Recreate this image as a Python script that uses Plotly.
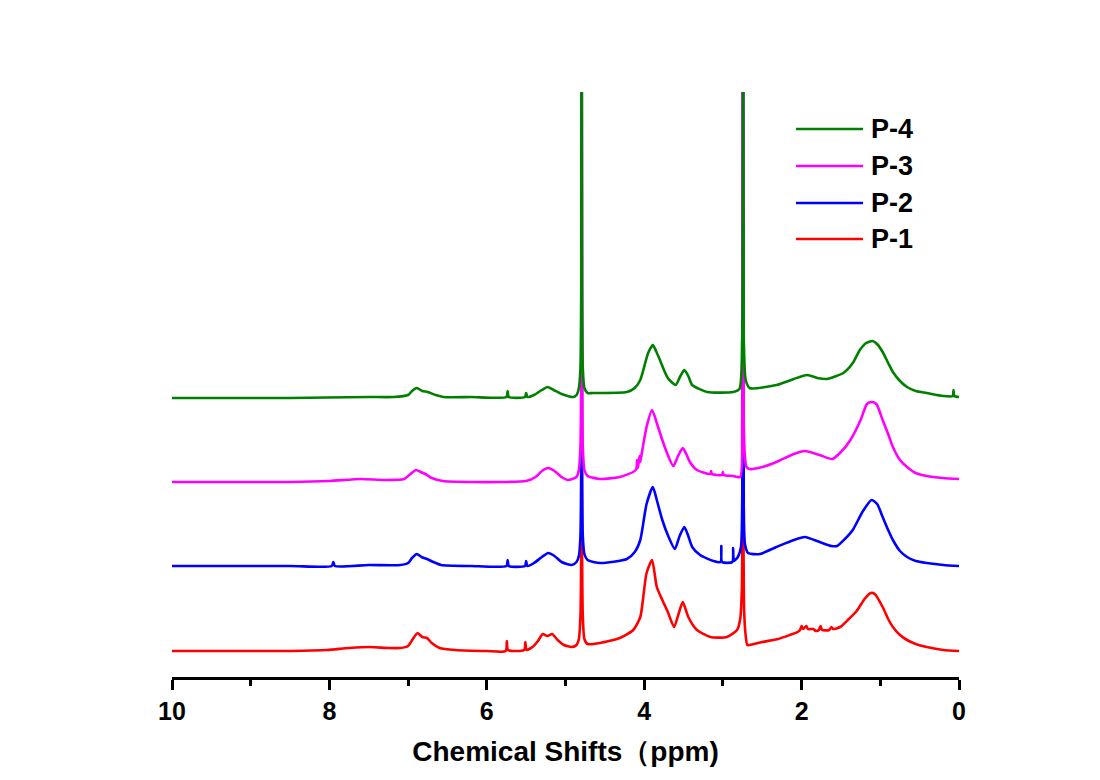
import plotly.graph_objects as go

# ---------------- data ----------------
names = ["P-1", "P-2", "P-3", "P-4"]
colors = ["#FF0000", "#0000FF", "#FF00FF", "#008000"]
offsets = [26, 111, 195, 279]          # vertical stacking offset of each spectrum
tick_vals = [10, 8, 6, 4, 2, 0]
x_title = "Chemical Shifts（ppm)"

# (ppm, intensity above own baseline)
P1 = [(10.0, 0), (9.0, 0), (8.5, 0), (8.03, 1), (7.75, 3), (7.48, 4), (7.25, 3), (7.10, 3),
      (7.00, 5), (6.94, 12), (6.88, 18), (6.82, 14), (6.76, 13), (6.70, 8), (6.60, 3), (6.40, 1),
      (6.00, 0), (5.76, 0), (5.745, 10), (5.73, 1), (5.525, 1), (5.51, 9), (5.495, 1), (5.42, 4),
      (5.35, 10), (5.29, 17), (5.23, 15), (5.17, 17), (5.10, 11), (5.02, 6), (4.92, 4), (4.86, 6),
      (4.83, 12), (4.81, 35), (4.80, 110), (4.795, 900), (4.79, 110), (4.78, 35), (4.76, 12),
      (4.72, 7), (4.56, 8), (4.31, 13), (4.14, 21), (4.05, 34), (3.97, 78), (3.90, 91), (3.84, 64),
      (3.77, 51), (3.70, 39), (3.62, 24), (3.56, 38), (3.51, 49), (3.44, 34), (3.33, 21),
      (3.16, 14), (2.95, 14), (2.82, 21), (2.78, 32), (2.76, 60), (2.75, 150), (2.745, 900),
      (2.74, 150), (2.73, 40), (2.71, 15), (2.69, 6), (2.66, 6), (2.50, 9), (2.30, 12),
      (2.15, 16), (2.05, 19), (2.02, 21), (2.00, 25), (1.98, 22), (1.94, 25), (1.92, 22),
      (1.85, 22), (1.82, 20), (1.78, 21), (1.76, 25), (1.74, 21), (1.65, 21), (1.62, 24),
      (1.60, 22), (1.51, 24), (1.40, 32), (1.30, 40), (1.20, 52), (1.12, 58), (1.07, 57),
      (0.97, 44), (0.90, 32), (0.84, 24), (0.75, 16), (0.66, 11), (0.55, 7), (0.41, 4),
      (0.20, 1), (0.0, 0)]

P2 = [(10.0, 0), (8.5, 0), (7.97, 0), (7.95, 4), (7.93, 0), (7.5, 1), (7.1, 1), (7.0, 3),
      (6.95, 8), (6.89, 12), (6.83, 9), (6.76, 7), (6.68, 4), (6.58, 1), (6.2, 0), (5.75, 0),
      (5.735, 6), (5.72, 0), (5.515, 0), (5.50, 5), (5.485, 0), (5.40, 3), (5.30, 9), (5.22, 13),
      (5.14, 10), (5.05, 4), (4.92, 1), (4.86, 4), (4.83, 10), (4.81, 30), (4.80, 100),
      (4.795, 900), (4.79, 100), (4.78, 30), (4.76, 12), (4.72, 6), (4.56, 3), (4.22, 7),
      (4.12, 14), (4.05, 26), (3.97, 62), (3.89, 79), (3.84, 66), (3.77, 46), (3.70, 31),
      (3.61, 17), (3.55, 30), (3.49, 39), (3.44, 30), (3.39, 19), (3.29, 11), (3.12, 5),
      (3.03, 4), (3.02, 20), (3.01, 4), (2.88, 4), (2.87, 18), (2.86, 5), (2.81, 9), (2.77, 19),
      (2.755, 60), (2.745, 900), (2.735, 60), (2.72, 22), (2.68, 13), (2.53, 12), (2.32, 19),
      (2.10, 26), (1.96, 29), (1.77, 24), (1.62, 20), (1.55, 20), (1.45, 27), (1.35, 36),
      (1.22, 55), (1.11, 66), (1.04, 62), (0.97, 49), (0.90, 36), (0.84, 26), (0.75, 15),
      (0.66, 9), (0.55, 5), (0.41, 3), (0.2, 1), (0.0, 0)]

P3 = [(10.0, 0), (8.5, 0), (8.0, 1), (7.6, 3), (7.3, 2), (7.05, 3), (6.97, 8), (6.90, 12),
      (6.84, 10), (6.78, 8), (6.70, 4), (6.56, 1), (6.2, 0), (5.8, 0), (5.5, 1), (5.38, 5),
      (5.30, 11), (5.22, 14), (5.14, 11), (5.05, 5), (4.97, 2), (4.86, 5), (4.83, 12), (4.81, 35),
      (4.80, 110), (4.795, 900), (4.79, 110), (4.78, 35), (4.76, 12), (4.72, 6), (4.56, 3),
      (4.31, 5), (4.14, 10), (4.10, 13), (4.09, 22), (4.08, 14), (4.06, 26), (4.05, 20),
      (4.03, 29), (3.97, 55), (3.90, 72), (3.84, 59), (3.77, 42), (3.71, 29), (3.63, 16),
      (3.57, 26), (3.51, 34), (3.46, 27), (3.42, 20), (3.33, 12), (3.16, 8), (3.15, 11),
      (3.14, 8), (3.01, 7), (3.00, 10), (2.99, 7), (2.87, 6), (2.78, 5), (2.755, 60),
      (2.745, 900), (2.735, 60), (2.72, 25), (2.70, 15), (2.66, 13), (2.50, 15), (2.32, 20),
      (2.10, 28), (1.96, 31), (1.77, 27), (1.61, 23), (1.50, 30), (1.38, 42), (1.25, 62),
      (1.17, 78), (1.11, 80), (1.05, 78), (0.97, 62), (0.90, 48), (0.84, 35), (0.75, 22),
      (0.66, 15), (0.55, 9), (0.41, 6), (0.2, 4), (0.0, 3)]

P4 = [(10.0, 0), (8.5, 0), (7.5, 1), (7.19, 1), (7.0, 3), (6.95, 7), (6.89, 10), (6.82, 7),
      (6.75, 6), (6.65, 3), (6.55, 1), (6.2, 1), (5.75, 1), (5.735, 7), (5.72, 1), (5.515, 1),
      (5.50, 5), (5.485, 1), (5.40, 3), (5.30, 8), (5.23, 11), (5.15, 8), (5.05, 4), (4.90, 1),
      (4.86, 3), (4.83, 10), (4.81, 30), (4.80, 110), (4.795, 900), (4.79, 110), (4.78, 30),
      (4.76, 10), (4.72, 5), (4.65, 5), (4.22, 6), (4.12, 10), (4.05, 18), (3.95, 45),
      (3.89, 53), (3.85, 47), (3.80, 38), (3.70, 20), (3.60, 13), (3.54, 22), (3.49, 28),
      (3.44, 22), (3.39, 13), (3.20, 6), (2.87, 6), (2.79, 9), (2.755, 60), (2.745, 900),
      (2.735, 60), (2.71, 18), (2.66, 10), (2.32, 13), (2.10, 19), (1.93, 23), (1.80, 20),
      (1.68, 19), (1.47, 25), (1.35, 35), (1.26, 48), (1.18, 55), (1.10, 57), (1.03, 53),
      (0.97, 46), (0.90, 35), (0.84, 26), (0.75, 17), (0.66, 11), (0.55, 7), (0.41, 5),
      (0.20, 2), (0.08, 2), (0.07, 8), (0.06, 2), (0.0, 1)]

spectra = [P1, P2, P3, P4]

# ---------------- figure ----------------
W, H = 1100, 780
ML, MR, MT, MB = 172, 141, 92, 103
FONT = "Arial, Liberation Sans, sans-serif"

fig = go.Figure()
for name, col, off, sp in zip(names, colors, offsets, spectra):
    xs = [p[0] for p in sp]
    ys = [p[1] + off for p in sp]
    fig.add_trace(go.Scatter(x=xs, y=ys, mode="lines", name=name,
                             line=dict(color=col, width=2.6, shape="spline", smoothing=0.6),
                             showlegend=False, hoverinfo="skip"))

# manual legend (long line samples as in the original)
pw, ph = W - ML - MR, H - MT - MB
def px_x(v):
    return (v - ML) / pw
def px_y(v):
    return (H - MB - v) / ph

leg_rows = [129, 166, 203, 239]
for i, row in enumerate(leg_rows):
    k = len(names) - 1 - i
    fig.add_shape(type="line", xref="paper", yref="paper",
                  x0=px_x(796), x1=px_x(863), y0=px_y(row), y1=px_y(row),
                  line=dict(color=colors[k], width=2.6))
    fig.add_annotation(xref="paper", yref="paper", x=px_x(869), y=px_y(row),
                       text=names[k], showarrow=False, xanchor="left", yanchor="middle",
                       font=dict(family=FONT, size=27, color="black", weight="bold"))

fig.update_layout(
    width=W, height=H,
    margin=dict(l=ML, r=MR, t=MT, b=MB, autoexpand=False),
    paper_bgcolor="white", plot_bgcolor="white",
    showlegend=False,
    xaxis=dict(range=[10, 0], tickvals=tick_vals, ticks="outside", ticklen=10, tickwidth=3,
               tickcolor="black", showline=True, linewidth=3, linecolor="black",
               showgrid=False, zeroline=False,
               tickfont=dict(family=FONT, size=25, color="black", weight="bold"),
               minor=dict(dtick=1, tick0=0, ticks="outside", ticklen=6, tickwidth=3,
                          tickcolor="black", showgrid=False),
               title=dict(text=x_title, standoff=18,
                          font=dict(family=FONT, size=28, color="black", weight="bold"))),
    yaxis=dict(range=[0, ph], visible=False, showgrid=False, zeroline=False),
)

fig.write_html("out.html")
